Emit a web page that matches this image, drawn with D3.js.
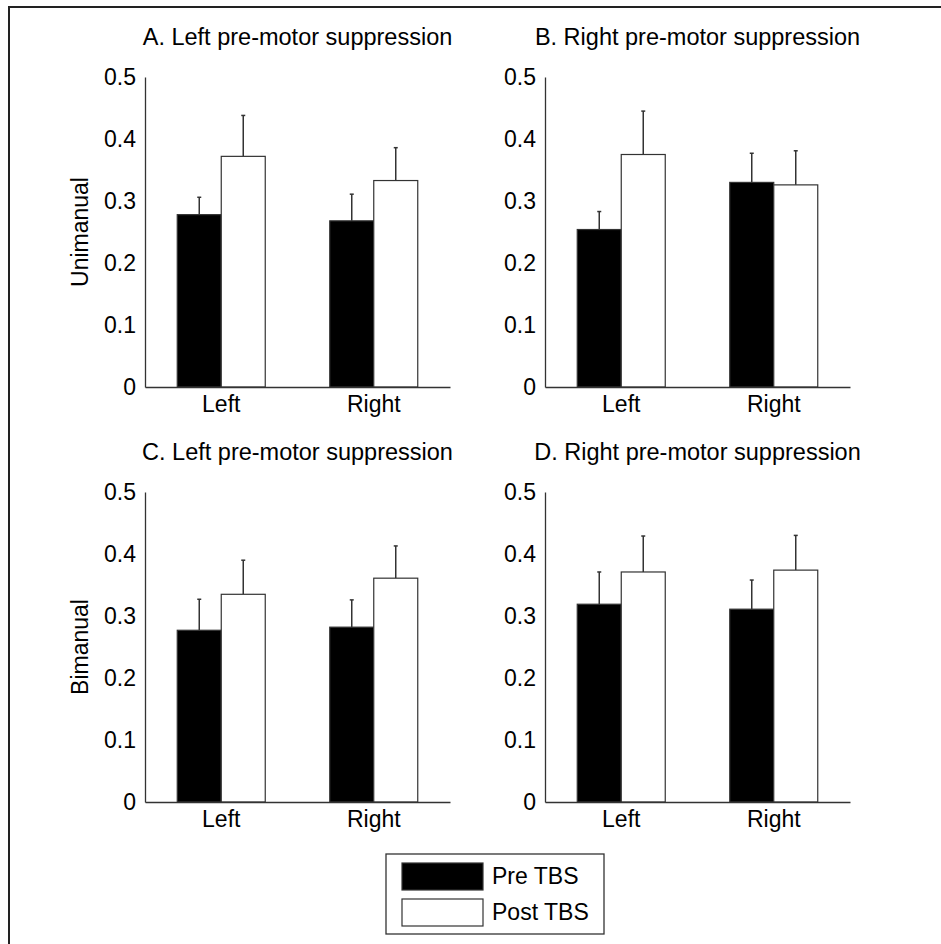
<!DOCTYPE html>
<html>
<head>
<meta charset="utf-8">
<script src="https://cdn.jsdelivr.net/npm/d3@7"></script>
<style>
	body { margin: 0; background: #fff; }
	text { font-family: "Liberation Sans", Arial, sans-serif; fill: #000; }
</style>
</head>
<body>
<svg id="fig" width="941" height="944"></svg>
<script>
// data
const categories = ["Left", "Right"];
const seriesNames = ["Pre TBS", "Post TBS"];
const panelTitles = [
	"A. Left pre-motor suppression",
	"B. Right pre-motor suppression",
	"C. Left pre-motor suppression",
	"D. Right pre-motor suppression"
];
const rowLabels = ["Unimanual", "Bimanual"];
const yTicks = [0, 0.1, 0.2, 0.3, 0.4, 0.5];

const preMeans  = [[0.278, 0.268], [0.254, 0.330], [0.277, 0.282], [0.319, 0.311]];
const postMeans = [[0.372, 0.333], [0.375, 0.326], [0.335, 0.361], [0.371, 0.374]];
const preErr    = [[0.028, 0.043], [0.029, 0.047], [0.050, 0.044], [0.052, 0.047]];
const postErr   = [[0.066, 0.053], [0.070, 0.055], [0.055, 0.052], [0.058, 0.056]];

const fills = ["#000", "#fff"];
const lineCol = "#333";
const fontSize = 23;

const svg = d3.select("#fig");

// outer frame (runs off the right and bottom edge)
svg.append("rect")
	.attr("x", 9).attr("y", 7)
	.attr("width", 1000).attr("height", 1000)
	.attr("fill", "none")
	.attr("stroke", "#222")
	.attr("stroke-width", 2);

// axes boxes for the four panels
const panels = [
	{ left: 145, top: 77, width: 305, height: 310 },
	{ left: 545, top: 77, width: 305, height: 310 },
	{ left: 145, top: 492, width: 305, height: 310 },
	{ left: 545, top: 492, width: 305, height: 310 }
];

panels.forEach((p, k) => {
	let g = svg.append("g")
		.attr("transform", "translate(" + p.left + "," + p.top + ")");

	let x = d3.scaleBand()
		.domain(categories)
		.range([0, p.width])
		.paddingInner(0.423)
		.paddingOuter(0.2115);

	let xs = d3.scaleBand()
		.domain(seriesNames)
		.range([0, x.bandwidth()]);

	let y = d3.scaleLinear()
		.domain([0, 0.5])
		.range([p.height, 0]);

	let rows = categories.map((c, i) => [
		{ cat: c, s: seriesNames[0], v: preMeans[k][i], e: preErr[k][i], fill: fills[0] },
		{ cat: c, s: seriesNames[1], v: postMeans[k][i], e: postErr[k][i], fill: fills[1] }
	]).flat();

	// error bars first, bars drawn on top
	let eb = g.selectAll(".err")
		.data(rows)
		.enter()
		.append("g")
		.attr("class", "err");
	eb.append("line")
		.attr("x1", d => x(d.cat) + xs(d.s) + xs.bandwidth() / 2)
		.attr("x2", d => x(d.cat) + xs(d.s) + xs.bandwidth() / 2)
		.attr("y1", d => y(d.v))
		.attr("y2", d => y(d.v + d.e))
		.attr("stroke", lineCol)
		.attr("stroke-width", 1.5);
	eb.append("line")
		.attr("x1", d => x(d.cat) + xs(d.s) + xs.bandwidth() / 2 - 2)
		.attr("x2", d => x(d.cat) + xs(d.s) + xs.bandwidth() / 2 + 2)
		.attr("y1", d => y(d.v + d.e))
		.attr("y2", d => y(d.v + d.e))
		.attr("stroke", lineCol)
		.attr("stroke-width", 1.5);

	g.selectAll(".bar")
		.data(rows)
		.enter()
		.append("rect")
		.attr("class", "bar")
		.attr("x", d => x(d.cat) + xs(d.s))
		.attr("y", d => y(d.v))
		.attr("width", xs.bandwidth())
		.attr("height", d => y(0) - y(d.v))
		.attr("fill", d => d.fill)
		.attr("stroke", lineCol)
		.attr("stroke-width", 1.2);

	// y axis
	let ya = g.append("g")
		.call(d3.axisLeft(y).tickValues(yTicks).tickSize(0).tickPadding(9)
			.tickFormat(d => d === 0 ? "0" : d3.format(".1f")(d)));
	ya.select(".domain").attr("stroke", lineCol).attr("stroke-width", 1.3);
	ya.selectAll("text")
		.style("font-size", fontSize + "px")
		.style("font-family", '"Liberation Sans", Arial, sans-serif')
		.attr("fill", "#000");

	// x axis
	let xa = g.append("g")
		.attr("transform", "translate(0," + p.height + ")")
		.call(d3.axisBottom(x).tickSize(0).tickPadding(9));
	xa.select(".domain").attr("stroke", lineCol).attr("stroke-width", 1.3);
	xa.selectAll("text")
		.style("font-size", fontSize + "px")
		.style("font-family", '"Liberation Sans", Arial, sans-serif')
		.attr("fill", "#000");

	// title
	g.append("text")
		.attr("x", p.width / 2)
		.attr("y", -32)
		.attr("text-anchor", "middle")
		.style("font-size", "23.5px")
		.text(panelTitles[k]);

	// row label on left column
	if (k % 2 === 0) {
		g.append("text")
			.attr("transform", "translate(" + (88 - p.left) + "," + (p.height / 2) + ") rotate(-90)")
			.attr("text-anchor", "middle")
			.style("font-size", fontSize + "px")
			.text(rowLabels[k / 2]);
	}
});

// legend
let legend = svg.append("g").attr("transform", "translate(386,854)");
legend.append("rect")
	.attr("width", 218).attr("height", 80)
	.attr("fill", "#fff")
	.attr("stroke", lineCol)
	.attr("stroke-width", 1.3);
let items = legend.selectAll(".item")
	.data(seriesNames)
	.enter()
	.append("g")
	.attr("class", "item")
	.attr("transform", (d, i) => "translate(16," + (9 + i * 36) + ")");
items.append("rect")
	.attr("width", 81).attr("height", 27)
	.attr("fill", (d, i) => fills[i])
	.attr("stroke", lineCol)
	.attr("stroke-width", 1.2);
items.append("text")
	.attr("x", 90)
	.attr("y", 21)
	.style("font-size", fontSize + "px")
	.text(d => d);
</script>
</body>
</html>
